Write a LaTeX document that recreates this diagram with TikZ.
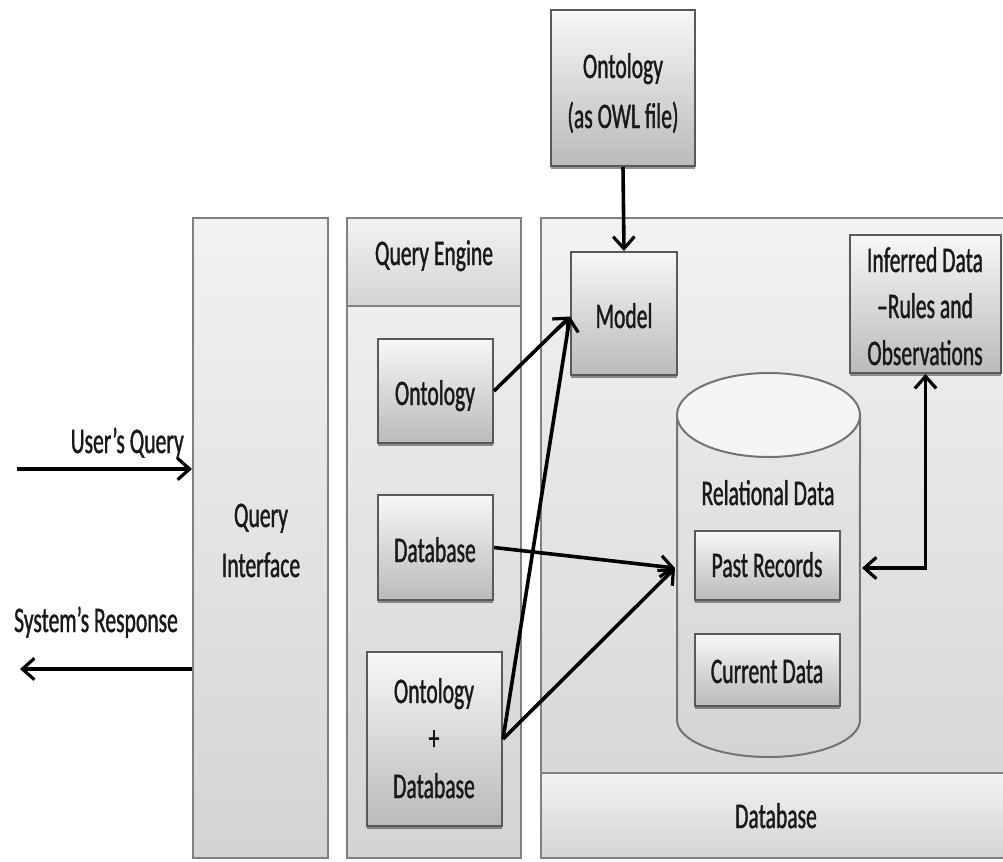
\documentclass[tikz,border=0pt]{standalone}
\usepackage{fontspec}
\setmainfont{Carlito}[FakeStretch=0.6, FakeBold=1]
\usetikzlibrary{arrows.meta,fit,shadows,calc}
\begin{document}
\begin{tikzpicture}[x=0.75pt,y=-0.75pt,
  >={Straight Barb[length=9pt,width=16pt,line width=2.4pt]},
  every node/.style={font=\fontsize{27}{35}\selectfont, text=black!90},
  t/.style={anchor=base, inner sep=0pt},
  panel/.style={draw=black!50, line width=1.5pt, top color=black!5, bottom color=black!17, inner sep=0pt},
  box/.style={draw=black!65, line width=1.5pt, top color=black!3, bottom color=black!27, inner sep=0pt,
    drop shadow={shadow xshift=0pt, shadow yshift=-2.5pt, opacity=0.6, fill=black!70}},
  arr/.style={line width=2.7pt, ->},
  darr/.style={line width=2.7pt, <->},
]
\fill[white] (0,0) rectangle (1003,861);
\useasboundingbox (0,0) rectangle (1003,861);

% panels
\node[panel, fit={(193,218)(328,858)}] (qi) {};
\node[t] (qi1) at (261,527) {Query};
\node[t] (qi2) at (261,577) {Interface};
\node[panel, fit={(347,218)(521,858)}] (qe) {};
\node[panel, fit={(347,218)(521,306)}] (qeh) {};
\node[t] (qeht) at (434,265) {Query Engine};
\node[panel, fit={(541,218)(1008,858)}] (dbp) {};
\node[panel, fit={(541,773)(1008,858)}] (dbl) {};
\node[t] (dbtext) at (776,828) {Database};

% top box
\node[box, fit={(551,10)(695,166)}] (owl) {};
\node[t] (owl1) at (623,78) {Ontology};
\node[t] (owl2) at (623,128) {(as OWL file)};

% database panel content
\node[box, fit={(571,252)(677,375)}] (model) {};
\node[t] (modelt) at (624,328) {Model};
\node[box, fit={(850,235)(1001,373)}] (inf) {};
\node[t] (inf1) at (925,272) {Inferred Data};
\node[t] (inf2) at (925,318) {–Rules and};
\node[t] (inf3) at (925,365) {Observations};

% cylinder
\path[draw=black!55, line width=1.5pt, top color=black!9, bottom color=black!17]
  (677,415) -- (677,720) arc[start angle=180, end angle=360, x radius=68.6pt, y radius=27.75pt]
  -- (860,415) -- cycle;
\draw[black!55, line width=1.5pt, fill=black!4] (768.5,415) ellipse [x radius=68.6pt, y radius=31.5pt];
\node[t] (reltext) at (768,505) {Relational Data};
\node[box, fit={(695,531)(840,600)}] (past) {};
\node[t] (pastt) at (767,577) {Past Records};
\node[box, fit={(695,634)(840,706)}] (cur) {};
\node[t] (curt) at (767,683) {Current Data};
\coordinate (relin) at (675,568);
\coordinate (relright) at (862,568);

% query engine content
\node[box, fit={(378,339)(493,443)}] (ont) {};
\node[t] (ontt) at (435,405) {Ontology};
\node[box, fit={(378,495)(493,600)}] (dbq) {};
\node[t] (dbqt) at (435,562) {Database};
\node[box, fit={(367,652)(502,826)}] (odb) {};
\node[t] (odb1) at (434,703) {Ontology};
\node[t] (odb2) at (434,750) {+};
\node[t] (odb3) at (434,798) {Database};

% connectors
\draw[arr] (owl.south) -- (model.north);
\draw[arr] (ont.east) -- ($(model.west)+(0,3)$);
\draw[arr] (odb.east) -- ($(model.west)+(0,3)$);
\draw[arr] (dbq.east) -- (relin);
\draw[arr] (odb.east) -- (relin);
\draw[darr] (relright) -| (inf.south);

% user side
\coordinate (uq) at (17,469);
\coordinate (sr) at (20,669);
\draw[arr] (uq) -- (qi.west |- uq);
\node[anchor=base east, inner sep=0pt] (uqlabel) at (184,453) {User’s Query};
\draw[arr] (qi.west |- sr) -- (sr);
\node[t] (srlabel) at (96,632) {System’s Response};
\end{tikzpicture}
\end{document}
